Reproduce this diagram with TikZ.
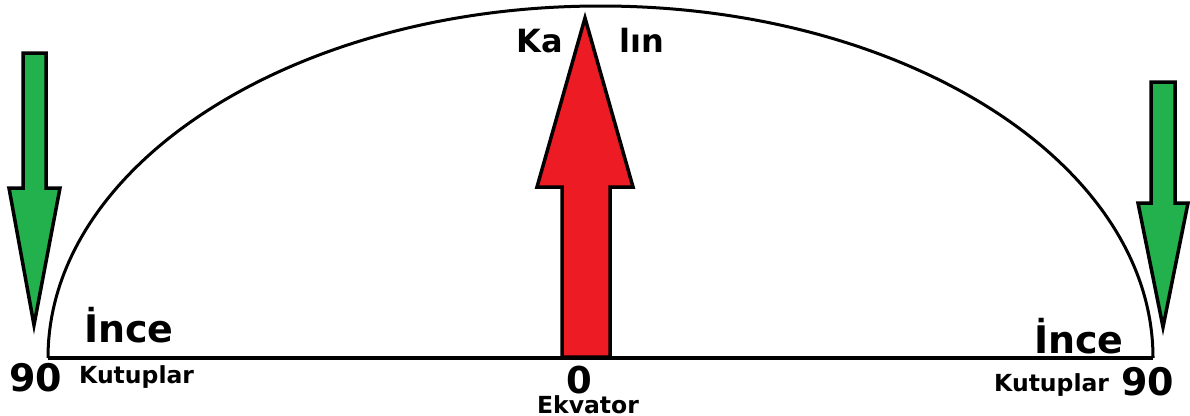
\documentclass[tikz,border=0pt]{standalone}
\usepackage{fontspec}
\setmainfont{DejaVu Sans}
\definecolor{pred}{HTML}{ED1C24}
\definecolor{pgreen}{HTML}{22B14C}
\tikzset{
  arrowshape/.style={draw=black, line width=3.5pt, line join=miter},
  lbl/.style={inner sep=0pt, font=\bfseries, text=black},
}
\newcommand{\fsz}[1]{\fontsize{#1}{#1}\selectfont}
\begin{document}
\begin{tikzpicture}[x=1pt, y=-1pt]
\path[use as bounding box] (0,0) rectangle (1190,415);
% hemisphere outline
\draw[line width=3pt] (48,358) arc[start angle=180, end angle=360, x radius=552.5, y radius=352];
\draw[line width=4pt] (48,358) -- (1153,358);
% red arrow
\draw[arrowshape, fill=pred] (562,357) -- (562,187) -- (537,187) -- (585,18) -- (633,187) -- (610,187) -- (610,357) -- cycle;
% green arrows
\draw[arrowshape, fill=pgreen] (23,53) -- (46,53) -- (46,188) -- (60,188) -- (34,325) -- (9,188) -- (23,188) -- cycle;
\draw[arrowshape, fill=pgreen] (1151,82) -- (1175,82) -- (1175,203) -- (1188,203) -- (1163,327) -- (1138,203) -- (1151,203) -- cycle;
% labels
\node[lbl, anchor=base west, font=\bfseries\fsz{32}] (ka) at (516,52) {Ka};
\node[lbl, anchor=base west, font=\bfseries\fsz{32}] (lin) at (619,52) {lın};
\node[lbl, anchor=base west, font=\bfseries\fsz{38}] (incel) at (84,342) {İnce};
\node[lbl, anchor=base west, font=\bfseries\fsz{38}] (incer) at (1034,353) {İnce};
\node[lbl, anchor=base west, font=\bfseries\fsz{38}] (n90l) at (9,391) {90};
\node[lbl, anchor=base west, font=\bfseries\fsz{38}] (n90r) at (1121,395) {90};
\node[lbl, anchor=base west, font=\bfseries\fsz{23.5}] (kutl) at (79,383) {Kutuplar};
\node[lbl, anchor=base west, font=\bfseries\fsz{23.5}] (kutr) at (994,391) {Kutuplar};
\node[lbl, anchor=base, font=\bfseries\fsz{37}] (zero) at (579,393) {0};
\node[lbl, anchor=base, font=\bfseries\fsz{23.5}] (ekv) at (588,413) {Ekvator};
\end{tikzpicture}
\end{document}
